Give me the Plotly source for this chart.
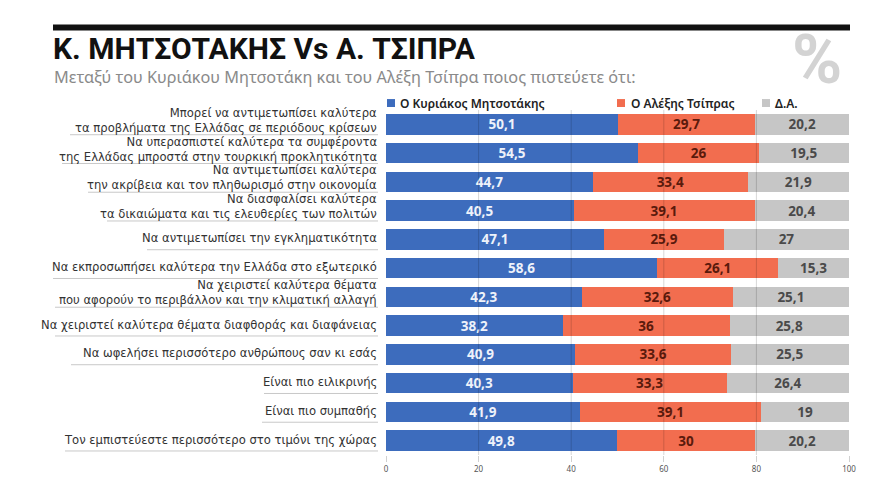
import plotly.graph_objects as go

categories = [
    "Μπορεί να αντιμετωπίσει καλύτερα<br>τα προβλήματα της Ελλάδας σε περιόδους κρίσεων",
    "Να υπερασπιστεί καλύτερα τα συμφέροντα<br>της Ελλάδας μπροστά στην τουρκική προκλητικότητα",
    "Να αντιμετωπίσει καλύτερα<br>την ακρίβεια και τον πληθωρισμό στην οικονομία",
    "Να διασφαλίσει καλύτερα<br>τα δικαιώματα και τις ελευθερίες των πολιτών",
    "Να αντιμετωπίσει την εγκληματικότητα",
    "Να εκπροσωπήσει καλύτερα την Ελλάδα στο εξωτερικό",
    "Να χειριστεί καλύτερα θέματα<br>που αφορούν το περιβάλλον και την κλιματική αλλαγή",
    "Να χειριστεί καλύτερα θέματα διαφθοράς και διαφάνειας",
    "Να ωφελήσει περισσότερο ανθρώπους σαν κι εσάς",
    "Είναι πιο ειλικρινής",
    "Είναι πιο συμπαθής",
    "Τον εμπιστεύεστε περισσότερο στο τιμόνι της χώρας",
]
mitsotakis = [50.1, 54.5, 44.7, 40.5, 47.1, 58.6, 42.3, 38.2, 40.9, 40.3, 41.9, 49.8]
tsipras = [29.7, 26, 33.4, 39.1, 25.9, 26.1, 32.6, 36, 33.6, 33.3, 39.1, 30]
da = [20.2, 19.5, 21.9, 20.4, 27, 15.3, 25.1, 25.8, 25.5, 26.4, 19, 20.2]
series_names = ["Ο Κυριάκος Μητσοτάκης", "Ο Αλέξης Τσίπρας", "Δ.Α."]
x_ticks = [0, 20, 40, 60, 80, 100]

# underline left edges (window px) estimated from reference layout
underline_left_px = [70, 62, 88, 107, 147, 53, 55, 55, 71, 264, 262, 65]

BLUE = "#3d6cbd"
ORANGE = "#f26d4f"
GREY = "#c6c6c6"
FONT = "DejaVu Sans"

# page body has an 8px margin; figure sized to fit inside the window
OFF = 8
W, H = 864, 478
ML, MR, MT, MB = 378, 23, 102, 29
PW, PH = W - ML - MR, H - MT - MB


def px_x(px):
    return (px - OFF - ML) / PW


def px_y(py):
    return (H + OFF - MB - py) / PH


def fmt(v):
    return ("%g" % v).replace(".", ",")


fig = go.Figure()
for name, vals, color, tcolor in [
    (series_names[0], mitsotakis, BLUE, "#eef2fa"),
    (series_names[1], tsipras, ORANGE, "#5a1a0c"),
    (series_names[2], da, GREY, "#4a4a4a"),
]:
    fig.add_trace(go.Bar(
        y=categories, x=vals, orientation="h", name=name,
        marker=dict(color=color, line=dict(width=0)),
        text=[fmt(v) for v in vals], textposition="inside",
        insidetextanchor="middle", textangle=0, constraintext="none",
        textfont=dict(family="Noto Sans", size=13.5, color=tcolor, weight="bold"),
        hoverinfo="skip",
    ))

shapes = []
# gridlines drawn over the bars
for t in x_ticks[1:-1]:
    shapes.append(dict(type="line", xref="x", yref="paper", x0=t, x1=t, y0=0, y1=1,
                       line=dict(color="rgba(0,0,0,0.16)", width=1), layer="above"))
# underlines beneath labels
for i, left in enumerate(underline_left_px):
    shapes.append(dict(type="line", xref="paper", yref="y", x0=px_x(left), x1=px_x(378),
                       y0=i + 0.36, y1=i + 0.36, line=dict(color="#c8c8c8", width=1)))
# top black rule
shapes.append(dict(type="rect", xref="paper", yref="paper", x0=px_x(53), x1=px_x(850),
                   y0=px_y(30), y1=px_y(24), fillcolor="#111111", line=dict(width=0)))
# legend squares
for lx, col in [(387, BLUE), (617, ORANGE), (762, GREY)]:
    shapes.append(dict(type="rect", xref="paper", yref="paper", x0=px_x(lx), x1=px_x(lx + 8),
                       y0=px_y(107), y1=px_y(99), fillcolor=col, line=dict(width=0)))

annotations = []
for i, cat in enumerate(categories):
    two = "<br>" in cat
    annotations.append(dict(
        xref="paper", yref="y", x=px_x(379), y=i, xanchor="right", yanchor="middle",
        align="right", text=cat, showarrow=False, yshift=4 if two else 1,
        font=dict(family=FONT, size=11.6, color="#333333"),
    ))
for lx, name in [(398, series_names[0]), (629, series_names[1]), (773, series_names[2])]:
    annotations.append(dict(
        xref="paper", yref="paper", x=px_x(lx), y=px_y(103), xanchor="left", yanchor="middle",
        text=name, showarrow=False, font=dict(family="Noto Sans", size=12, color="#222222", weight=600),
    ))
annotations.append(dict(
    xref="paper", yref="paper", x=px_x(51), y=px_y(48), xanchor="left", yanchor="middle",
    text="Κ. ΜΗΤΣΟΤΑΚΗΣ Vs Α. ΤΣΙΠΡΑ", showarrow=False,
    font=dict(family="Roboto", size=30, color="#111111", weight="bold"),
))
annotations.append(dict(
    xref="paper", yref="paper", x=px_x(52), y=px_y(77), xanchor="left", yanchor="middle",
    text="Μεταξύ του Κυριάκου Μητσοτάκη και του Αλέξη Τσίπρα ποιος πιστεύετε ότι:",
    showarrow=False, font=dict(family="Noto Sans", size=16.3, color="#8a8a8a"),
))
annotations.append(dict(
    xref="paper", yref="paper", x=px_x(817), y=px_y(60), xanchor="center", yanchor="middle",
    text="%", showarrow=False, font=dict(family="Roboto", size=68, color="#d3d3d3", weight="bold"),
))

fig.update_layout(
    width=W, height=H, barmode="stack", bargap=0.29,
    margin=dict(l=ML, r=MR, t=MT, b=MB),
    paper_bgcolor="white", plot_bgcolor="white", showlegend=False,
    shapes=shapes, annotations=annotations,
    xaxis=dict(range=[0, 100], tickvals=x_ticks, ticktext=[str(t) for t in x_ticks],
               showgrid=False, zeroline=False, ticks="outside", ticklen=6,
               tickcolor="#d0d0d0", tickfont=dict(family="Noto Sans", size=8, color="#555555")),
    yaxis=dict(categoryorder="array", categoryarray=categories, autorange="reversed",
               showticklabels=False, showgrid=False, zeroline=False),
    font=dict(family=FONT),
)

fig.write_html("out.html")
